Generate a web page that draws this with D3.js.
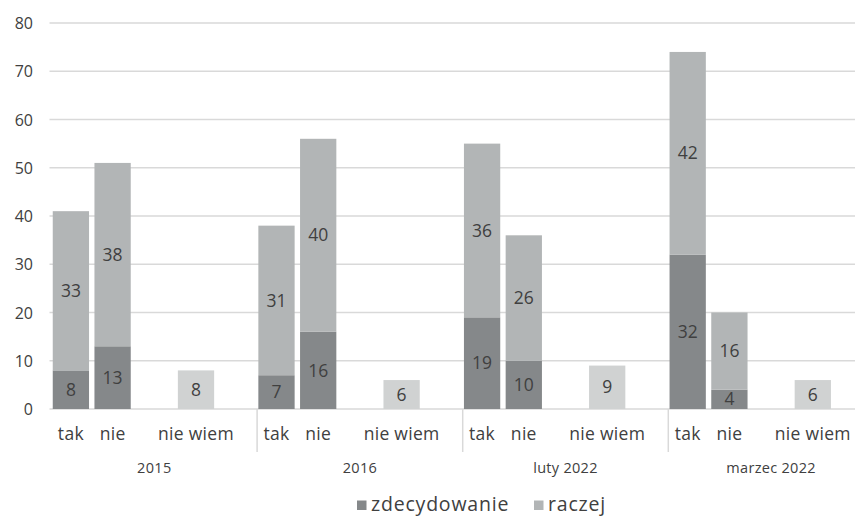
<!DOCTYPE html>
<html>
<head>
<meta charset="utf-8">
<script src="https://cdn.jsdelivr.net/npm/d3@7"></script>
<style>
  body { margin: 0; background: #fff; }
  svg { display: block; font-family: "Open Sans", "Noto Sans", sans-serif; }
</style>
</head>
<body>
<svg id="chart" width="855" height="517"></svg>
<script>
const groups = ["2015", "2016", "luty 2022", "marzec 2022"];
const answers = ["tak", "nie", "", "nie wiem", ""];
const seriesNames = ["zdecydowanie", "raczej"];
// per group: [tak, nie, nie wiem]
const zdecydowanie = [[8, 13, 0], [7, 16, 0], [19, 10, 0], [32, 4, 0]];
const raczej = [[33, 38, 8], [31, 40, 6], [36, 26, 9], [42, 16, 6]];
const yTicks = [0, 10, 20, 30, 40, 50, 60, 70, 80];

const colors = { z: "#85888a", r: "#b2b5b6", nw: "#d0d2d2" };
const textColor = "#404040";
const gridColor = "#d9d9d9";

const svg = d3.select("#chart");
const x0 = 51.5, plotTop = 23, plotBottom = 409;
const groupWidth = 205.6;

const gx = d3.scaleBand().domain(groups).range([x0, x0 + groupWidth * groups.length]).padding(0);
const sx = d3.scaleBand().domain(d3.range(answers.length)).range([0, groupWidth]).paddingInner(0.13).paddingOuter(0.03);
const y = d3.scaleLinear().domain([0, 80]).range([plotBottom, plotTop]);

// gridlines
svg.append("g").selectAll("line").data(yTicks.filter(d => d > 0)).join("line")
  .attr("x1", x0 - 2).attr("x2", 855).attr("y1", d => y(d)).attr("y2", d => y(d))
  .attr("stroke", gridColor).attr("stroke-width", 1.5);

// y axis labels
const yAxis = d3.axisLeft(y).tickValues(yTicks).tickSize(0).tickPadding(0);
const ya = svg.append("g").attr("transform", `translate(33,0)`).call(yAxis);
ya.select(".domain").remove();
ya.selectAll("text").attr("font-size", 16).attr("fill", textColor).attr("font-family", "Open Sans").attr("dy", "0.35em");

// baseline
svg.append("line").attr("x1", x0 - 2).attr("x2", 855).attr("y1", y(0)).attr("y2", y(0))
  .attr("stroke", gridColor).attr("stroke-width", 1.5);

// group separators
svg.append("g").selectAll("line").data(groups.slice(1)).join("line")
  .attr("x1", d => gx(d)).attr("x2", d => gx(d))
  .attr("y1", y(0)).attr("y2", 452)
  .attr("stroke", gridColor).attr("stroke-width", 1.5);

// build bar data
const slotIdx = [0, 1, 3];
const segs = [];
groups.forEach((g, gi) => {
  slotIdx.forEach((si, ai) => {
    const z = zdecydowanie[gi][ai], r = raczej[gi][ai];
    const isNW = ai === 2;
    if (z > 0) segs.push({ g, si, y0: 0, y1: z, v: z, c: colors.z });
    if (r > 0) segs.push({ g, si, y0: z, y1: z + r, v: r, c: isNW ? colors.nw : colors.r });
  });
});

const bars = svg.append("g");
bars.selectAll("rect").data(segs).join("rect")
  .attr("x", d => gx(d.g) + sx(d.si))
  .attr("width", sx.bandwidth())
  .attr("y", d => y(d.y1))
  .attr("height", d => y(d.y0) - y(d.y1))
  .attr("fill", d => d.c);

bars.selectAll("text").data(segs).join("text")
  .attr("x", d => gx(d.g) + sx(d.si) + sx.bandwidth() / 2)
  .attr("y", d => (y(d.y0) + y(d.y1)) / 2)
  .attr("dy", "0.35em")
  .attr("text-anchor", "middle")
  .attr("font-size", 17.5)
  .attr("fill", textColor)
  .text(d => d.v);

// category labels
const catLabels = [];
groups.forEach(g => answers.forEach((a, i) => { if (a) catLabels.push({ g, i, a }); }));
svg.append("g").selectAll("text").data(catLabels).join("text")
  .attr("x", d => gx(d.g) + sx(d.i) + sx.bandwidth() / 2)
  .attr("y", 440)
  .attr("text-anchor", "middle")
  .attr("font-size", 17.5)
  .attr("letter-spacing", 0.3)
  .attr("fill", textColor)
  .text(d => d.a);

// group labels
svg.append("g").selectAll("text").data(groups).join("text")
  .attr("x", d => gx(d) + gx.bandwidth() / 2)
  .attr("y", 473)
  .attr("text-anchor", "middle")
  .attr("font-size", 14.5)
  .attr("letter-spacing", 0.3)
  .attr("fill", textColor)
  .text(d => d);

// legend
const legendX = [357, 534];
const leg = svg.append("g");
seriesNames.forEach((s, i) => {
  leg.append("rect").attr("x", legendX[i]).attr("y", 500.5).attr("width", 9.5).attr("height", 9.5)
    .attr("fill", i === 0 ? colors.z : colors.r);
  leg.append("text").attr("x", legendX[i] + 14).attr("y", 510.5)
    .attr("font-size", 19.5).attr("letter-spacing", 0.8).attr("fill", textColor).text(s);
});
</script>
</body>
</html>
